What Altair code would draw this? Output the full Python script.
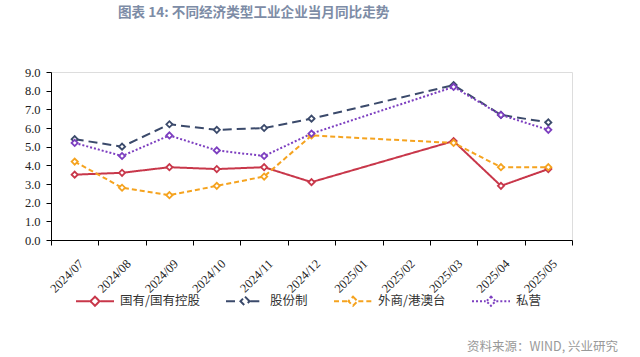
import altair as alt
import pandas as pd

months = ["2024/07", "2024/08", "2024/09", "2024/10", "2024/11", "2024/12",
          "2025/01", "2025/02", "2025/03", "2025/04", "2025/05"]
series_names = ["国有/国有控股", "股份制", "外商/港澳台", "私营"]
state_owned = [3.5, 3.6, 3.9, 3.8, 3.9, 3.1, None, None, 5.3, 2.9, 3.8]
shareholding = [5.4, 5.0, 6.2, 5.9, 6.0, 6.5, None, None, 8.3, 6.7, 6.3]
foreign = [4.2, 2.8, 2.4, 2.9, 3.4, 5.6, None, None, 5.2, 3.9, 3.9]
private = [5.2, 4.5, 5.6, 4.8, 4.5, 5.7, None, None, 8.2, 6.7, 5.9]
colors = ["#c8374a", "#3b4a6b", "#f5a31f", "#7d3fc0"]
dashes = [[1, 0], [9, 5], [5, 3], [2, 2]]
title_text = "图表 14: 不同经济类型工业企业当月同比走势"
source_text = "资料来源：WIND, 兴业研究"

rows = []
for name, vals in zip(series_names, [state_owned, shareholding, foreign, private]):
    for m, v in zip(months, vals):
        if v is not None:
            rows.append({"month": m, "series": name, "value": v})
df = pd.DataFrame(rows)

serif = "Liberation Serif"

x_enc = alt.X("month:O", scale=alt.Scale(type="band", domain=months, paddingInner=0, paddingOuter=0),
              axis=alt.Axis(title=None, labelAngle=-45, tickBand="extent", tickSize=5,
                            domainColor="#000", tickColor="#000", labelFont=serif,
                            labelFontSize=12.5, labelColor="#222", labelPadding=12, labelOffset=2))
y_enc = alt.Y("value:Q", scale=alt.Scale(domain=[0, 9], nice=False),
              axis=alt.Axis(title=None, values=[0, 1, 2, 3, 4, 5, 6, 7, 8, 9], format=".1f",
                            grid=False, tickSize=5, domainColor="#000", tickColor="#000",
                            labelFont=serif, labelFontSize=12.5, labelColor="#222", labelPadding=6))

legend_symbol = "M-1,0H-0.28M0.28,0H1M0,-0.24L0.24,0L0,0.24L-0.24,0Z"


def make_legend():
    return alt.Legend(title=None, orient="none", legendX=24, legendY=209,
                      direction="horizontal", symbolType=legend_symbol,
                      symbolSize=1444, symbolStrokeWidth=2, symbolFillColor="white",
                      labelFont="Noto Sans CJK SC", labelFontSize=12.5,
                      labelColor="#333", labelOffset=5, columnPadding=22)


lines = alt.Chart(df).mark_line(strokeWidth=2).encode(
    x=x_enc, y=y_enc,
    color=alt.Color("series:N", scale=alt.Scale(domain=series_names, range=colors),
                    legend=make_legend()),
    strokeDash=alt.StrokeDash("series:N", scale=alt.Scale(domain=series_names, range=dashes),
                              legend=make_legend()),
)

points = alt.Chart(df).mark_point(shape="diamond", filled=False, fill="white", fillOpacity=1,
                                  opacity=1, size=38, strokeWidth=1.8).encode(
    x=x_enc, y=y_enc,
    color=alt.Color("series:N", scale=alt.Scale(domain=series_names, range=colors), legend=None),
)

source = alt.Chart(pd.DataFrame({"t": [source_text]})).mark_text(
    align="right", baseline="alphabetic", font="Noto Sans CJK SC", fontSize=12.5, color="#999999"
).encode(x=alt.value(567), y=alt.value(279), text="t:N")

chart = alt.layer(lines, points, source).properties(
    width=521, height=168,
    padding={"left": 51, "top": 72, "right": 68, "bottom": 117},
    autosize=alt.AutoSizeParams(type="none"),
    title=alt.TitleParams(title_text, anchor="start", frame="group", dx=67, offset=46,
                          font="Noto Sans CJK SC", fontSize=13.6, fontWeight="bold", color="#7d8ca6"),
).configure_view(stroke=None).configure(background="white")

chart.save("out.html", embed_options={"renderer": "svg", "actions": False})
